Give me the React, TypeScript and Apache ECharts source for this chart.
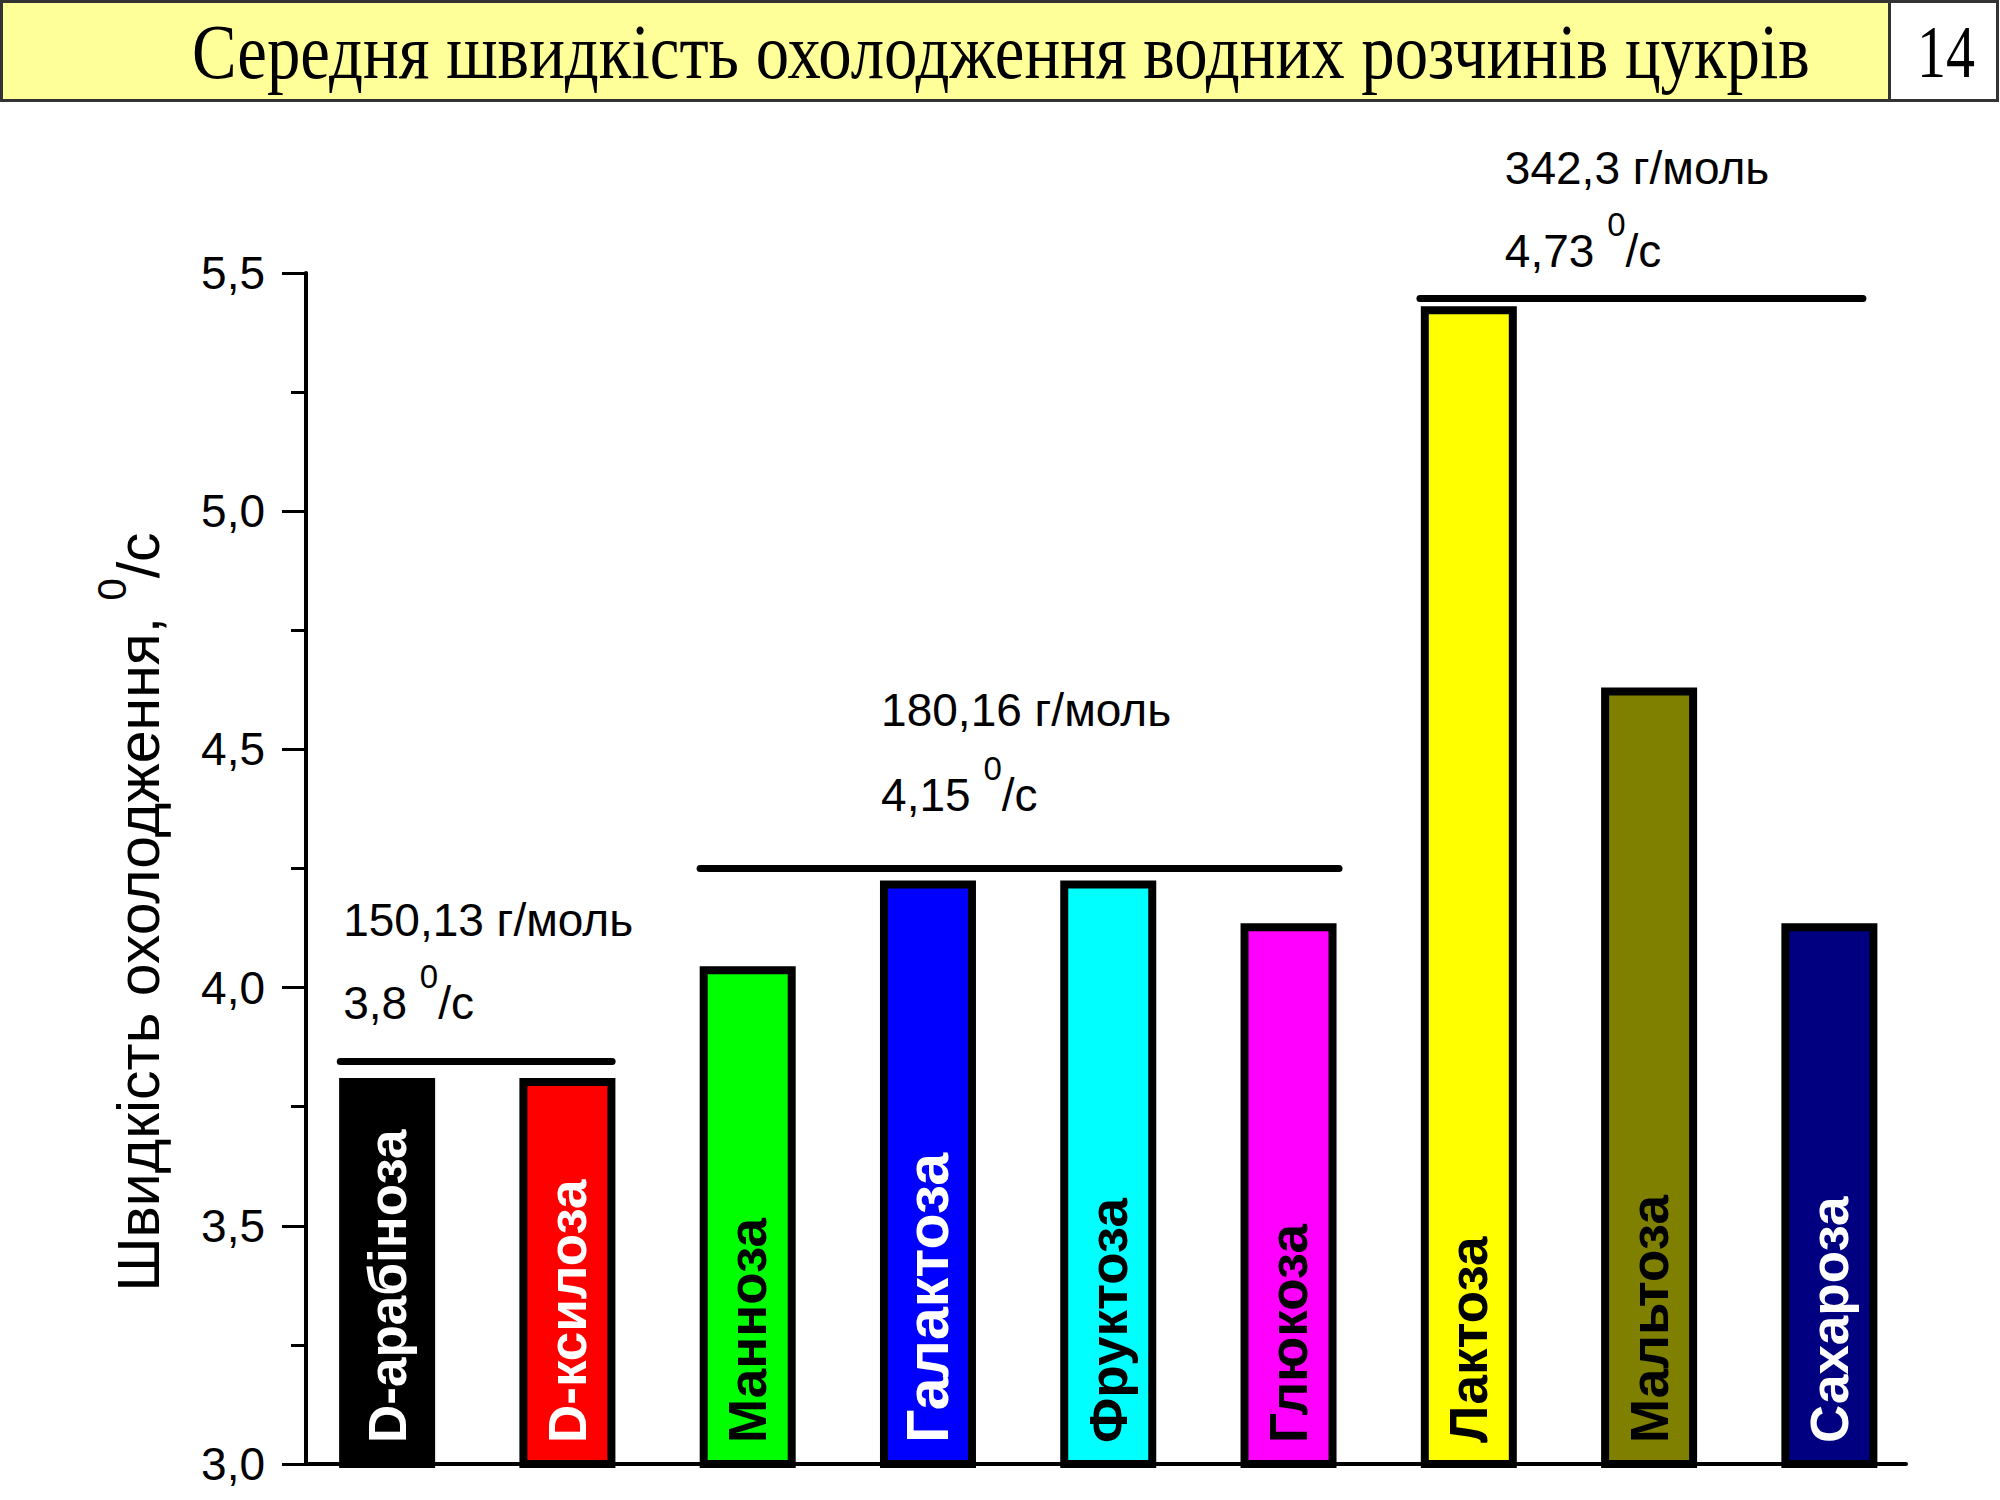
import React, { useEffect, useRef } from "react";
import * as echarts from "echarts";

// ---------- data ----------
const categories = [
  "D-арабіноза",
  "D-ксилоза",
  "Манноза",
  "Галактоза",
  "Фруктоза",
  "Глюкоза",
  "Лактоза",
  "Мальтоза",
  "Сахароза",
];
const positions = [1, 2, 3, 4, 5, 6, 7, 8, 9];
const values = [3.81, 3.81, 4.045, 4.225, 4.225, 4.135, 5.43, 4.63, 4.135];

const groupMass = ["150,13 г/моль", "180,16 г/моль", "342,3 г/моль"];
const groupRate = ["3,8", "4,15", "4,73"];
const groupLineY = [3.845, 4.251, 5.448];
const groupLineStart = [0.74, 2.736, 6.729];
const groupLineEnd = [2.248, 6.28, 9.186];
const groupTextX = [0.756, 3.74, 7.2];
const groupMassY = [4.115, 4.556, 5.694];
const groupRateY = [3.937, 4.373, 5.515];

const titleText = "Середня швидкість охолодження водних розчинів цукрів";
const slideNumber = "14";
const yAxisTitleMain = "Швидкість охолодження, ";
const degreeSign = "0";
const rateUnit = "/с";

// ---------- styles ----------
const barColors = ["#000000", "#FF0000", "#00FF00", "#0000FF", "#00FFFF", "#FF00FF", "#FFFF00", "#808000", "#000080"];
const labelColors = ["#FFFFFF", "#FFFFFF", "#000000", "#FFFFFF", "#000000", "#000000", "#000000", "#000000", "#FFFFFF"];
const labelSizes = [53, 53, 53, 59, 53, 53, 53, 53, 53];

const SANS = '"Liberation Sans", Arial, sans-serif';
const SERIF = '"Liberation Serif", "Times New Roman", serif';

function measure(text: string, font: string): number {
  const ctx = document.createElement("canvas").getContext("2d");
  if (!ctx) return 1;
  ctx.font = font;
  return ctx.measureText(text).width;
}

export default function App() {
  const ref = useRef<HTMLDivElement>(null);

  useEffect(() => {
    if (!ref.current) return;
    const chart = echarts.init(ref.current, undefined, { renderer: "svg" });

    const option: any = {
      animation: false,
      backgroundColor: "#FFFFFF",
      grid: { left: 306, right: 94, top: 273, bottom: 36, containLabel: false },
      xAxis: {
        type: "value",
        min: 0.55,
        max: 9.425,
        axisLine: { show: true, onZero: false, lineStyle: { color: "#000", width: 4 } },
        axisTick: { show: false },
        axisLabel: { show: false },
        splitLine: { show: false },
      },
      yAxis: {
        type: "value",
        min: 3,
        max: 5.5,
        interval: 0.5,
        axisLine: { show: true, onZero: false, lineStyle: { color: "#000", width: 4 } },
        axisTick: { show: true, inside: false, length: 24, lineStyle: { color: "#000", width: 3 } },
        minorTick: { show: true, splitNumber: 2, length: 15, lineStyle: { color: "#000", width: 3 } },
        axisLabel: {
          margin: 41,
          color: "#000",
          fontFamily: SANS,
          fontSize: 46,
          formatter: (v: number) => v.toFixed(1).replace(".", ","),
        },
        splitLine: { show: false },
      },
      series: [
        {
          type: "bar",
          barWidth: 96,
          data: positions.map((p, i) => ({
            value: [p, values[i]],
            itemStyle: { color: barColors[i], borderColor: "#000000", borderWidth: 8 },
            label: { color: labelColors[i], fontSize: labelSizes[i] },
          })),
          label: {
            show: true,
            position: "insideBottom",
            distance: 25,
            rotate: 90,
            align: "left",
            verticalAlign: "middle",
            fontFamily: SANS,
            fontWeight: "bold",
            formatter: (p: any) => categories[p.dataIndex],
          },
          markLine: {
            silent: true,
            symbol: ["none", "none"],
            label: { show: false },
            lineStyle: { color: "#000000", width: 7, type: "solid", cap: "round" },
            data: groupLineY.map((y, i) => [
              { coord: [groupLineStart[i], y] },
              { coord: [groupLineEnd[i], y] },
            ]),
          },
        },
      ],
    };

    chart.setOption(option);

    const toPx = (x: number, y: number) => chart.convertToPixel({ gridIndex: 0 }, [x, y]) as number[];

    const titleFs = 78;
    const titleW = measure(titleText, `${titleFs}px ${SERIF}`);
    const numFs = 74;
    const numW = measure(slideNumber, `${numFs}px ${SERIF}`);

    const graphics: any[] = [
      {
        type: "rect",
        shape: { x: 1.5, y: 1.5, width: 1888, height: 99 },
        style: { fill: "#FFFF99", stroke: "#333333", lineWidth: 3 },
        z: 10,
      },
      {
        type: "rect",
        shape: { x: 1889.5, y: 1.5, width: 108, height: 99 },
        style: { fill: "#FFFFFF", stroke: "#333333", lineWidth: 3 },
        z: 10,
      },
      {
        type: "text",
        x: 192,
        y: 52,
        scaleX: 1618 / titleW,
        style: {
          text: titleText,
          fontFamily: SERIF,
          fontSize: titleFs,
          fill: "#000",
          align: "left",
          verticalAlign: "middle",
        },
        z: 11,
      },
      {
        type: "text",
        x: 1946,
        y: 52,
        scaleX: 58 / numW,
        style: {
          text: slideNumber,
          fontFamily: SERIF,
          fontSize: numFs,
          fill: "#000",
          align: "center",
          verticalAlign: "middle",
        },
        z: 11,
      },
      {
        type: "text",
        x: 130,
        y: 912,
        rotation: Math.PI / 2,
        style: {
          text: `{m|${yAxisTitleMain}}{s|${degreeSign}}{m|${rateUnit}}`,
          align: "center",
          verticalAlign: "middle",
          fill: "#000",
          rich: {
            m: { fontFamily: SANS, fontSize: 59, lineHeight: 77, verticalAlign: "bottom", fill: "#000" },
            s: { fontFamily: SANS, fontSize: 40, lineHeight: 40, verticalAlign: "top", fill: "#000" },
          },
        },
        z: 11,
      },
    ];

    groupMass.forEach((m, i) => {
      const pm = toPx(groupTextX[i], groupMassY[i]);
      graphics.push({
        type: "text",
        x: pm[0],
        y: pm[1] + 10,
        style: {
          text: m,
          fontFamily: SANS,
          fontSize: 46,
          fill: "#000",
          align: "left",
          verticalAlign: "bottom",
        },
        z: 11,
      });
      const pr = toPx(groupTextX[i], groupRateY[i]);
      graphics.push({
        type: "text",
        x: pr[0],
        y: pr[1] + 8,
        style: {
          text: `{m|${groupRate[i]} }{s|${degreeSign}}{m|${rateUnit}}`,
          align: "left",
          verticalAlign: "bottom",
          fill: "#000",
          rich: {
            m: { fontFamily: SANS, fontSize: 46, lineHeight: 66, verticalAlign: "bottom", fill: "#000" },
            s: { fontFamily: SANS, fontSize: 33, lineHeight: 33, verticalAlign: "top", fill: "#000" },
          },
        },
        z: 11,
      });
    });

    chart.setOption({ graphic: graphics });

    return () => chart.dispose();
  }, []);

  return (
    <div
      ref={ref}
      style={{ position: "absolute", left: 0, top: 0, width: 2000, height: 1500, background: "#fff" }}
    />
  );
}
